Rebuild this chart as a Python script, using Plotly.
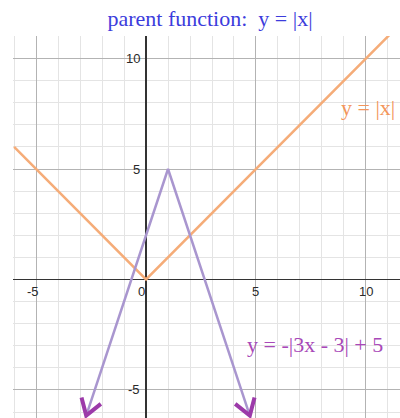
import numpy as np
import plotly.graph_objects as go

# ---- data ----
parent_x = [-6, 0, 11.6]                 # y = |x|
parent_y = [abs(v) for v in parent_x]
trans_x = [-2.72, 1, 4.72]               # y = -|3x - 3| + 5
trans_y = [-abs(3 * v - 3) + 5 for v in trans_x]
x_tick_vals = [-5, 0, 5, 10]
x_tick_text = ["-5", "0", "5", "10"]
y_tick_vals = [-5, 5, 10]
y_tick_text = ["-5", "5", "10"]
title_text = "parent function:  y = |x|"
parent_label = "y = |x|"
trans_label = "y = -|3x - 3| + 5"

ORANGE = "#f5ac78"
LAVENDER = "#a996cf"
MAGENTA = "#9c3aa9"
SERIF = "Liberation Serif, Times New Roman, serif"

fig = go.Figure()
fig.add_trace(go.Scatter(x=parent_x, y=parent_y, mode="lines",
                         line=dict(color=ORANGE, width=2.5), hoverinfo="skip"))
fig.add_trace(go.Scatter(x=trans_x, y=trans_y, mode="lines",
                         line=dict(color=LAVENDER, width=2.5), hoverinfo="skip"))

# open "V" arrowheads at the two ends of the transformed graph
def arrowhead(tip_x, tip_y, back_x, back_y, length=0.85, ang=33):
    d = np.array([back_x - tip_x, back_y - tip_y], dtype=float)
    d /= np.linalg.norm(d)
    pts = []
    for s in (1, -1):
        a = np.radians(s * ang)
        r = np.array([d[0] * np.cos(a) - d[1] * np.sin(a),
                      d[0] * np.sin(a) + d[1] * np.cos(a)])
        pts.append((tip_x + r[0] * length, tip_y + r[1] * length))
    return [pts[0][0], tip_x, pts[1][0]], [pts[0][1], tip_y, pts[1][1]]

for i_tip, i_back in ((0, 1), (2, 1)):
    ax_, ay_ = arrowhead(trans_x[i_tip], trans_y[i_tip], trans_x[i_back], trans_y[i_back])
    fig.add_trace(go.Scatter(x=ax_, y=ay_, mode="lines",
                             line=dict(color=MAGENTA, width=4), hoverinfo="skip"))

ann = []
for v, t in zip(x_tick_vals, x_tick_text):
    shift = -5 if v == 0 else (-3 if v < 0 else 0)
    ann.append(dict(x=v, y=0, xref="x", yref="y", text=t, showarrow=False,
                    xanchor="center", yanchor="top", xshift=shift, yshift=-3,
                    font=dict(family="Arial, Liberation Sans", size=13, color="#2a2a2a")))
for v, t in zip(y_tick_vals, y_tick_text):
    ann.append(dict(x=0, y=v, xref="x", yref="y", text=t, showarrow=False,
                    xanchor="right", yanchor="middle", xshift=-4,
                    font=dict(family="Arial, Liberation Sans", size=13, color="#2a2a2a")))
ann.append(dict(x=10.1, y=7.8, xref="x", yref="y", text=parent_label, showarrow=False,
                font=dict(family=SERIF, size=22, color="#f3955a")))
ann.append(dict(x=7.68, y=-2.95, xref="x", yref="y", text=trans_label, showarrow=False,
                font=dict(family=SERIF, size=22, color="#a848b8")))

axis_common = dict(showticklabels=False, ticks="", showline=False,
                   showgrid=True, gridcolor="#b3b3b3", gridwidth=1,
                   zeroline=True, zerolinecolor="#333", zerolinewidth=1.5,
                   minor=dict(dtick=1, showgrid=True, gridcolor="#e4e4e4", gridwidth=1),
                   fixedrange=True)

W, H = 400, 418
fig.update_layout(
    width=W, height=H,
    margin=dict(l=13, r=0, t=36, b=0),
    paper_bgcolor="white", plot_bgcolor="white",
    showlegend=False,
    hovermode=False,
    title=dict(text=title_text, x=210 / W, xref="container", xanchor="center",
               y=1 - 18 / H, yref="container", yanchor="middle",
               font=dict(family=SERIF, size=22, color="#3c3cdc")),
    xaxis=dict(range=[-6.05, 11.55], dtick=5, tick0=0, **axis_common),
    yaxis=dict(range=[-6.27, 11.02], dtick=5, tick0=0, **axis_common),
    annotations=ann,
)

fig.write_html("out.html", config={"displayModeBar": False, "staticPlot": True},
               post_script="document.body.style.margin='0px';document.body.style.overflow='hidden';")
